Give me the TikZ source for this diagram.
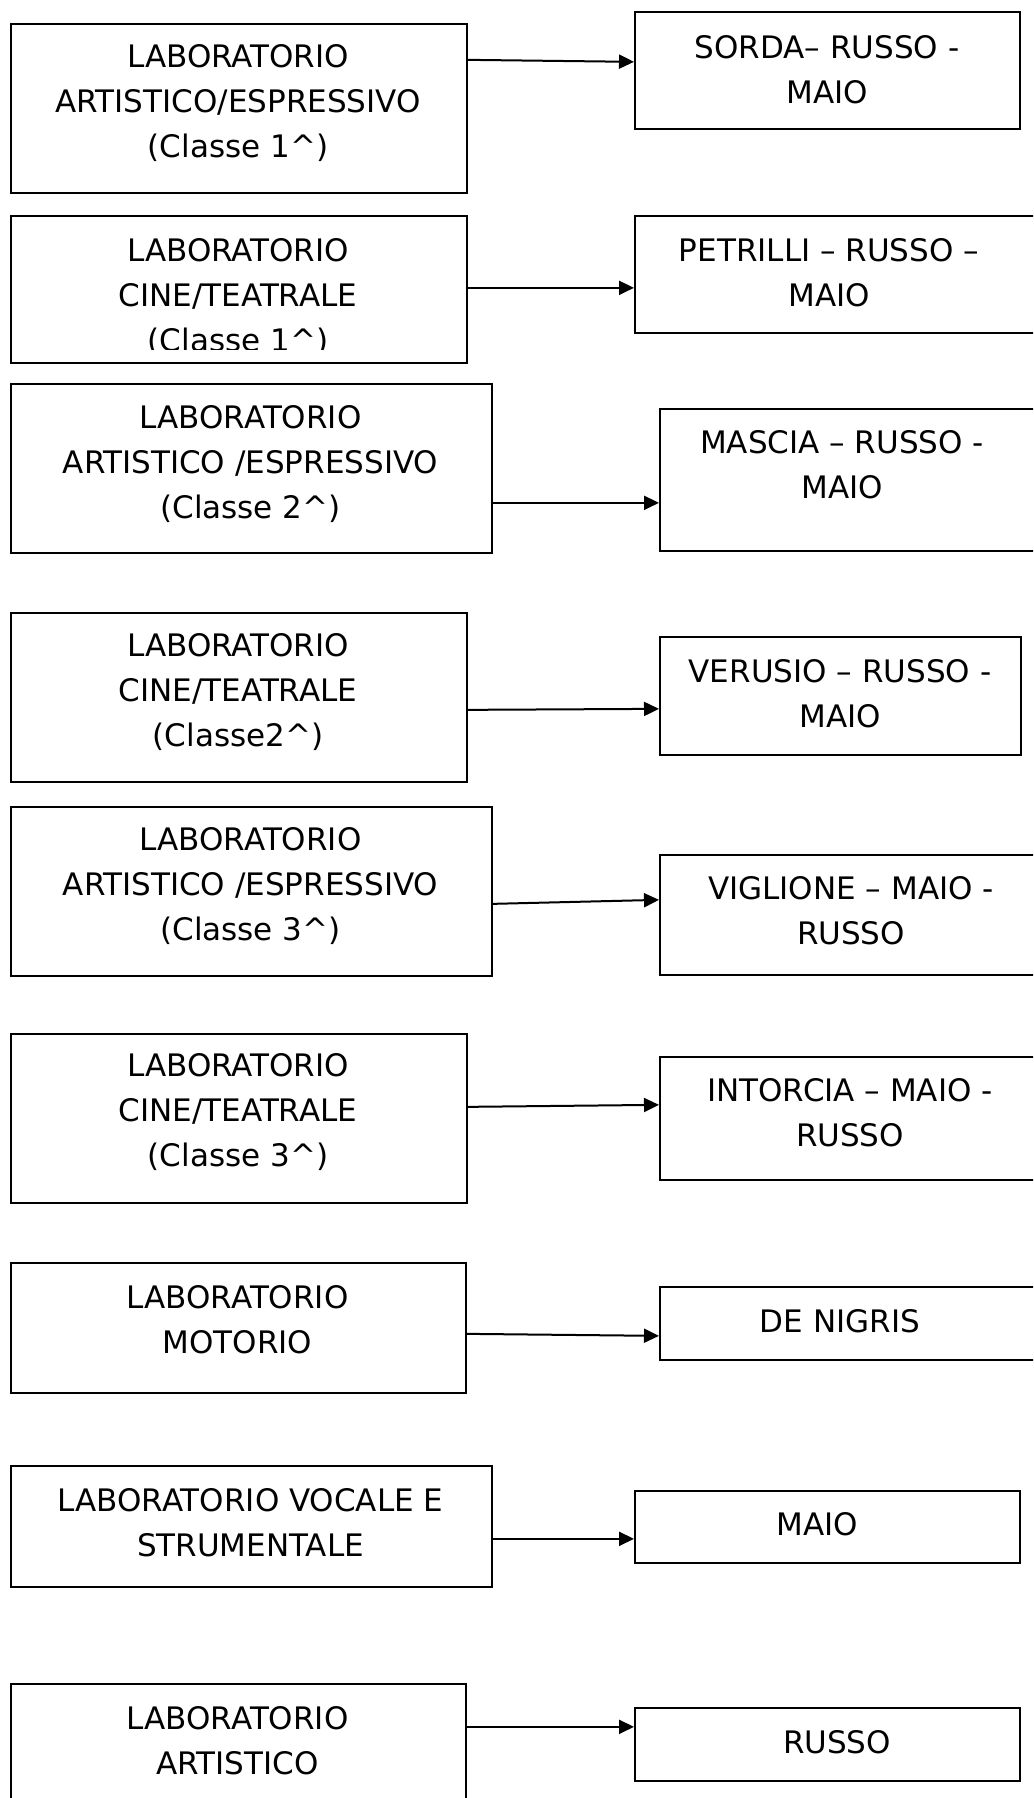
\documentclass[tikz,border=0pt]{standalone}
\usepackage{fontspec}
\setmainfont{DejaVu Sans}
\usetikzlibrary{arrows.meta}
\tikzset{
  box/.style={draw=black, line width=1.7pt, anchor=north west, inner sep=0pt},
  txt/.style={align=center, inner sep=0pt, font=\fontsize{31}{45}\selectfont},
  arr/.style={line width=2pt, -{Triangle[length=15pt,width=14pt]}}
}
\newcommand{\bx}[5]{\node[box, minimum width=#4-#2, minimum height=#5-#3] (#1) at (#2,-#3) {};}
\begin{document}
\begin{tikzpicture}[x=1pt,y=1pt]
\clip (0,0) rectangle (1033,-1798);
\fill[white] (0,0) rectangle (1033,-1798);
% boxes
\bx{A1}{10}{23}{466}{192}
\bx{B1}{634}{11}{1019}{128}
\bx{A2}{10}{215}{466}{362}
\bx{B2}{634}{215}{1045}{332}
\bx{A3}{10}{383}{491}{552}
\bx{B3}{659}{408}{1045}{550}
\bx{A4}{10}{612}{466}{781}
\bx{B4}{659}{636}{1020}{754}
\bx{A5}{10}{806}{491}{975}
\bx{B5}{659}{854}{1045}{974}
\bx{A6}{10}{1033}{466}{1202}
\bx{B6}{659}{1056}{1045}{1179}
\bx{A7}{10}{1262}{465}{1392}
\bx{B7}{659}{1286}{1045}{1359}
\bx{A8}{10}{1465}{491}{1586}
\bx{B8}{634}{1490}{1019}{1562}
\bx{A9}{10}{1683}{465}{1815}
\bx{B9}{634}{1707}{1019}{1780}
% texts
\node[txt] (tA1) at (238,-103.5) {LABORATORIO\\ARTISTICO/ESPRESSIVO\\(Classe 1\^{})};
\begin{scope}
\clip (10,-215) rectangle (466,-349);
\node[txt] (tA2) at (238,-297) {LABORATORIO\\CINE/TEATRALE\\(Classe 1\^{})};
\end{scope}
\node[txt] (tA3) at (250.5,-464) {LABORATORIO\\ARTISTICO /ESPRESSIVO\\(Classe 2\^{})};
\node[txt] (tA4) at (238,-692) {LABORATORIO\\CINE/TEATRALE\\(Classe2\^{})};
\node[txt] (tA5) at (250.5,-886) {LABORATORIO\\ARTISTICO /ESPRESSIVO\\(Classe 3\^{})};
\node[txt] (tA6) at (238,-1112) {LABORATORIO\\CINE/TEATRALE\\(Classe 3\^{})};
\node[txt] (tA7) at (237.5,-1319.5) {LABORATORIO\\MOTORIO};
\node[txt] (tA8) at (250.5,-1523) {LABORATORIO VOCALE E\\STRUMENTALE};
\node[txt] (tA9) at (237.5,-1740.5) {LABORATORIO\\ARTISTICO};
\node[txt] (tB1) at (827,-70) {SORDA– RUSSO -\\MAIO};
\node[txt] (tB2) at (829,-272.5) {PETRILLI – RUSSO –\\MAIO};
\node[txt] (tB3) at (842,-464.5) {MASCIA – RUSSO -\\MAIO};
\node[txt] (tB4) at (840,-693.5) {VERUSIO – RUSSO -\\MAIO};
\node[txt] (tB5) at (851,-910.5) {VIGLIONE – MAIO -\\RUSSO};
\node[txt] (tB6) at (850,-1112.5) {INTORCIA – MAIO -\\RUSSO};
\node[txt] (tB7) at (840,-1321) {DE NIGRIS};
\node[txt] (tB8) at (817,-1524) {MAIO};
\node[txt] (tB9) at (837,-1742) {RUSSO};
% arrows
\draw[arr] ([yshift=48.5pt]A1.east) -- ([yshift=8.5pt]B1.west);
\draw[arr] ([yshift=1.5pt]A2.east) -- ([yshift=-13.5pt]B2.west);
\draw[arr] ([yshift=-34.5pt]A3.east) -- ([yshift=-23pt]B3.west);
\draw[arr] ([yshift=-12.5pt]A4.east) -- ([yshift=-13pt]B4.west);
\draw[arr] ([yshift=-12.5pt]A5.east) -- ([yshift=15pt]B5.west);
\draw[arr] ([yshift=11.5pt]A6.east) -- ([yshift=13.5pt]B6.west);
\draw[arr] ([yshift=-6pt]A7.east) -- ([yshift=-12.5pt]B7.west);
\draw[arr] ([yshift=-12.5pt]A8.east) -- ([yshift=-12pt]B8.west);
\draw[arr] ([yshift=23pt]A9.east) -- ([yshift=17.5pt]B9.west);
\end{tikzpicture}
\end{document}
